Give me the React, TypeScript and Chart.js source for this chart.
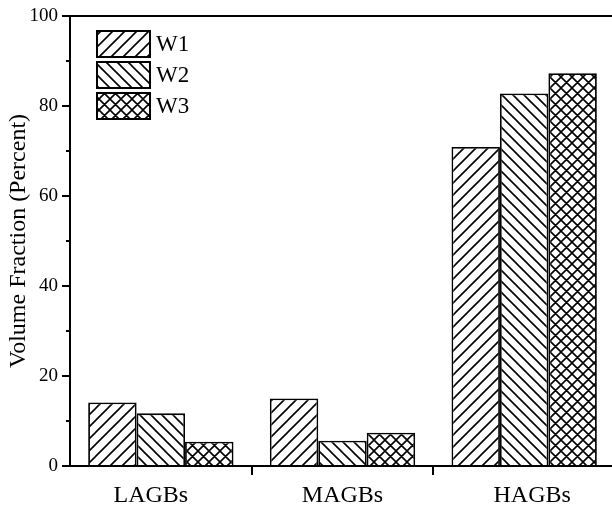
import { useEffect, useRef } from "react";
import { Chart, registerables } from "chart.js";

Chart.register(...registerables);

// Grain-boundary classes and volume fractions (%) for each sample
const categories = ["LAGBs", "MAGBs", "HAGBs"];
const seriesNames = ["W1", "W2", "W3"];
const w1Values = [14.1, 15.0, 70.9];
const w2Values = [11.7, 5.6, 82.8];
const w3Values = [5.4, 7.4, 87.3];
const yMinorTicks = [10, 30, 50, 70, 90];

const FONT = "'Liberation Serif', 'Times New Roman', serif";

// horizontal nudge of each category caption relative to its group centre
const CAPTION_SHIFT = [-10, 0, 8];

type HatchKind = "forward" | "back" | "cross";

function makeHatch(kind: HatchKind, size: number): CanvasPattern | string {
  const tile = document.createElement("canvas");
  tile.width = size;
  tile.height = size;
  const ctx = tile.getContext("2d");
  if (!ctx) return "#fff";
  ctx.fillStyle = "#fff";
  ctx.fillRect(0, 0, size, size);
  ctx.strokeStyle = "#000";
  ctx.lineWidth = 1.6;
  ctx.beginPath();
  if (kind === "forward" || kind === "cross") {
    ctx.moveTo(-1, 1);
    ctx.lineTo(1, -1);
    ctx.moveTo(0, size);
    ctx.lineTo(size, 0);
    ctx.moveTo(size - 1, size + 1);
    ctx.lineTo(size + 1, size - 1);
  }
  if (kind === "back" || kind === "cross") {
    ctx.moveTo(0, 0);
    ctx.lineTo(size, size);
    ctx.moveTo(-1, size - 1);
    ctx.lineTo(1, size + 1);
    ctx.moveTo(size - 1, -1);
    ctx.lineTo(size + 1, 1);
  }
  ctx.stroke();
  const pattern = ctx.createPattern(tile, "repeat");
  return pattern ?? "#fff";
}

// Frame line on top, minor y ticks, category captions and the boxed legend
const framePlugin = {
  id: "frame",
  afterDraw(chart: any) {
    const { ctx, chartArea, scales } = chart;
    ctx.save();
    ctx.strokeStyle = "#000";
    ctx.lineWidth = 2;
    ctx.beginPath();
    ctx.moveTo(chartArea.left - 1, chartArea.top);
    ctx.lineTo(chartArea.right + 4, chartArea.top);
    const y = scales.y;
    for (const v of yMinorTicks) {
      const py = Math.round(y.getPixelForValue(v));
      ctx.moveTo(chartArea.left - 4, py);
      ctx.lineTo(chartArea.left, py);
    }
    ctx.stroke();

    // category captions under the x axis
    const x = scales.x;
    ctx.fillStyle = "#000";
    ctx.font = `24px ${FONT}`;
    ctx.textAlign = "center";
    ctx.textBaseline = "alphabetic";
    chart.data.labels.forEach((label: string, i: number) => {
      const px = x.getPixelForValue(i) + (CAPTION_SHIFT[i] ?? 0);
      ctx.fillText(label, px, chartArea.bottom + 36);
    });

    // legend
    const boxX = 97;
    const boxW = 53;
    const boxH = 26;
    const step = 31;
    ctx.font = `23px ${FONT}`;
    ctx.textBaseline = "middle";
    ctx.textAlign = "left";
    chart.data.datasets.forEach((ds: any, i: number) => {
      const by = 31 + i * step;
      ctx.fillStyle = ds.backgroundColor;
      ctx.fillRect(boxX, by, boxW, boxH);
      ctx.lineWidth = 2;
      ctx.strokeStyle = "#000";
      ctx.strokeRect(boxX, by, boxW, boxH);
      ctx.fillStyle = "#000";
      ctx.fillText(ds.label, boxX + 59, by + boxH / 2 + 1);
    });
    ctx.restore();
  },
};

export default function App() {
  const canvasRef = useRef<HTMLCanvasElement | null>(null);

  useEffect(() => {
    const canvas = canvasRef.current;
    if (!canvas) return;
    const fills = [makeHatch("forward", 12), makeHatch("back", 11), makeHatch("cross", 11)];
    const values = [w1Values, w2Values, w3Values];

    const chart = new Chart(canvas, {
      type: "bar",
      data: {
        labels: categories,
        datasets: seriesNames.map((name, i) => ({
          label: name,
          data: values[i],
          backgroundColor: fills[i] as any,
          borderColor: "#000",
          borderWidth: 1.8,
          categoryPercentage: 0.8,
          barPercentage: 1.0,
        })),
      },
      options: {
        responsive: false,
        animation: false,
        devicePixelRatio: 1,
        layout: { padding: { top: 16, right: 1, left: 0, bottom: 0 } },
        plugins: {
          legend: { display: false },
          tooltip: { enabled: false },
        },
        scales: {
          x: {
            offset: true,
            grid: {
              offset: true,
              drawOnChartArea: false,
              drawTicks: true,
              tickLength: 9,
              lineWidth: 2,
              color: (ctx: any) => (ctx.index === 0 ? "rgba(0,0,0,0)" : "#000"),
            },
            border: { display: true, color: "#000", width: 2 },
            ticks: { display: false },
            afterFit(scale: any) {
              scale.height = 42;
            },
          },
          y: {
            min: 0,
            max: 100,
            grid: {
              drawOnChartArea: false,
              drawTicks: true,
              tickLength: 8,
              lineWidth: 2,
              color: "#000",
            },
            border: { display: true, color: "#000", width: 2 },
            ticks: {
              stepSize: 20,
              color: "#000",
              font: { family: FONT, size: 19 },
              padding: 4,
            },
            title: {
              display: true,
              text: "Volume Fraction (Percent)",
              color: "#000",
              font: { family: FONT, size: 24 },
              padding: { top: 4, bottom: 0 },
            },
            afterFit(scale: any) {
              scale.width = 70;
            },
          },
        },
      },
      plugins: [framePlugin],
    });

    return () => chart.destroy();
  }, []);

  return (
    <div
      style={{
        position: "absolute",
        left: 0,
        top: 0,
        width: 612,
        height: 508,
        overflow: "hidden",
        background: "#fff",
      }}
    >
      <canvas ref={canvasRef} width={616} height={508} style={{ display: "block" }} />
    </div>
  );
}
